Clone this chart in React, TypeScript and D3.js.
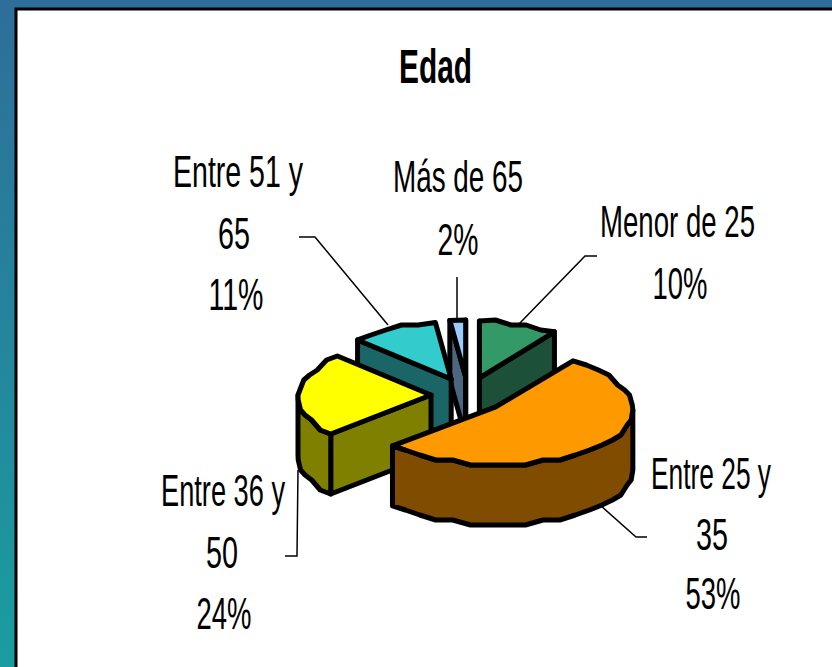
import React from "react";
import * as d3 from "d3";

const categories = ["Menor de 25", "Entre 25 y 35", "Entre 36 y 50", "Entre 51 y 65", "Más de 65"];
const values = [10, 53, 24, 11, 2];
const percentLabels = ["10%", "53%", "24%", "11%", "2%"];
const topColors = ["#339966", "#FF9900", "#FFFF00", "#33CCCC", "#99CCFF"];
const wallColors = ["#1C5038", "#804D00", "#808000", "#1A6666", "#4D6680"];
const drawOrder = [4, 0, 3, 2, 1];

const W = 832, H = 667;
const CX = 468, CY = 395, EX = 37, EY = 18, RX = 133, RY = 57, DEPTH = 60, PERSP = 0.05;
const isFrontSlice = (i: number) => values[i] === d3.max(values);

type P = [number, number];

function App() {
  const arcs = d3.pie<number>().sort(null).startAngle(0).endAngle(2 * Math.PI)(values);
  const line = d3.line<P>();
  const snap = (v: number, g: number) => Math.round(v / g) * g;

  const slices = arcs.map((a, i) => {
    const mid = (a.startAngle + a.endAngle) / 2;
    const ox = CX + EX * Math.sin(mid);
    const oy = CY - EY * Math.cos(mid);
    const grow = isFrontSlice(i) ? 1.03 : 1;
    const at = (t: number): P => [
      ox + grow * RX * (1 - PERSP * Math.cos(t)) * Math.sin(t),
      oy - RY * Math.cos(t),
    ];
    const n = Math.max(1, Math.round((a.endAngle - a.startAngle) / 0.13));
    const ts = d3.range(n + 1).map((k) => a.startAngle + ((a.endAngle - a.startAngle) * k) / n);
    const rim: P[] = ts.map((t, k) => {
      const p = at(t);
      return k === 0 || k === n ? p : [p[0], snap(p[1], 5)];
    });
    const down = (p: P): P => [p[0], p[1] + DEPTH];
    const apex: P = [ox, oy];
    const faces: P[][] = [];
    if (Math.sin(a.startAngle) < 1e-6) {
      const c = at(a.startAngle);
      faces.push([apex, c, down(c), down(apex)]);
    }
    if (Math.sin(a.endAngle) > -1e-6) {
      const c = at(a.endAngle);
      faces.push([apex, c, down(c), down(apex)]);
    }
    const frontIdx = ts.map((t, k) => (Math.cos(t) < 0.02 ? k : -1)).filter((k) => k >= 0);
    const frontRim = frontIdx.map((k) => rim[k]);
    const wall: P[] | null = frontRim.length > 1 ? [...frontRim, ...frontRim.slice().reverse().map(down)] : null;
    const top: P[] = [apex, ...rim];
    return { i, faces, wall, top };
  });

  const panelGrad = "bg";
  const txt = (s: string, x: number, y: number, len: number) => (
    <text
      x={x}
      y={y}
      textAnchor="middle"
      fontFamily="Liberation Sans"
      fontSize={44}
      textLength={len}
      lengthAdjust="spacingAndGlyphs"
      fill="#000"
    >
      {s}
    </text>
  );
  const leader = (pts: P[]) => <path d={line(pts) ?? ""} fill="none" stroke="#000" strokeWidth={1.5} />;

  return (
    <svg
      width={W}
      height={H}
      viewBox={`0 0 ${W} ${H}`}
      style={{ position: "fixed", left: 0, top: 0, display: "block" }}
    >
      <defs>
        <linearGradient id={panelGrad} x1="0" y1="0" x2="0" y2="1">
          <stop offset="0" stopColor="#2E6E9A" />
          <stop offset="1" stopColor="#1A9DA0" />
        </linearGradient>
      </defs>
      <rect x={0} y={0} width={W} height={H} fill={`url(#${panelGrad})`} />
      <rect x={16} y={9} width={W} height={H} fill="#fff" stroke="#000" strokeWidth={3} />

      <text
        x={435.5}
        y={83}
        textAnchor="middle"
        fontFamily="Liberation Sans"
        fontWeight="bold"
        fontSize={48}
        textLength={73}
        lengthAdjust="spacingAndGlyphs"
      >
        Edad
      </text>

      {leader([[518, 325], [585, 256], [597, 256]])}
      {leader([[600, 505], [636, 537], [647, 537]])}
      {leader([[298, 470], [297, 556], [285, 556]])}
      {leader([[388, 325], [315, 237], [299, 237]])}
      {leader([[457, 320], [457, 277]])}

      {drawOrder.map((idx) => {
        const s = slices[idx];
        const st = { stroke: "#000", strokeWidth: 5, strokeLinejoin: "round" as const };
        return (
          <g key={categories[idx]}>
            {s.faces.map((f, k) => (
              <path key={k} d={(line(f) ?? "") + "Z"} fill={wallColors[idx]} {...st} />
            ))}
            {s.wall && <path d={(line(s.wall) ?? "") + "Z"} fill={wallColors[idx]} {...st} />}
            <path d={(line(s.top) ?? "") + "Z"} fill={topColors[idx]} {...st} />
          </g>
        );
      })}

      {txt("Entre 51 y", 238, 187, 130)}
      {txt("65", 234, 249, 32)}
      {txt(percentLabels[3], 236, 310, 55)}

      {txt("Más de 65", 458, 192, 130)}
      {txt(percentLabels[4], 458, 255, 41)}

      {txt("Menor de 25", 677.5, 237, 155)}
      {txt(percentLabels[0], 680, 299, 55)}

      {txt("Entre 25 y", 711, 489, 120)}
      {txt("35", 712, 550, 32)}
      {txt(percentLabels[1], 713, 609, 55)}

      {txt("Entre 36 y", 223, 506, 124)}
      {txt("50", 222, 568, 32)}
      {txt(percentLabels[2], 224, 629, 55)}
    </svg>
  );
}

export default App;
